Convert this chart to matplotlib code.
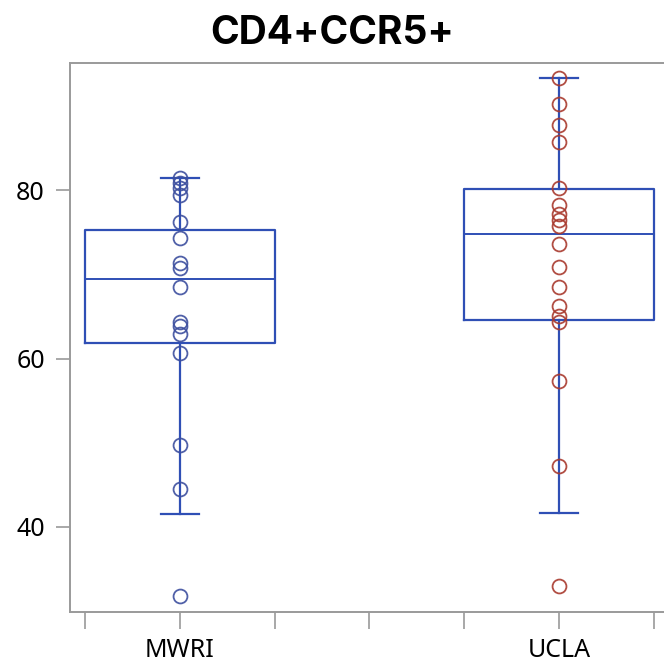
import matplotlib
matplotlib.use("Agg")
import matplotlib.pyplot as plt

# ---- data ----
groups = ["MWRI", "UCLA"]
positions = [1, 2]
mwri_vals = [81.5, 80.9, 80.2, 79.4, 76.2, 74.3, 71.3, 70.7, 68.5,
             64.4, 63.9, 62.9, 60.7, 49.7, 44.5, 31.8]
ucla_vals = [93.3, 90.2, 87.7, 85.7, 80.2, 78.2, 77.2, 76.5, 75.8, 73.6,
             70.9, 68.5, 66.2, 65.0, 64.4, 57.3, 47.2, 33.0]
# box stats (q1, median, q3, lower whisker, upper whisker)
q1 = [61.8, 64.6]
med = [69.5, 74.8]
q3 = [75.25, 80.1]
whislo = [41.5, 41.7]
whishi = [81.5, 93.3]
xtick_pos = [0.75, 1.0, 1.25, 1.5, 1.75, 2.0, 2.25]
xtick_labels = ["", "MWRI", "", "", "", "UCLA", ""]
yticks = [40, 60, 80]

box_color = "#2f4fb5"
point_colors = ["#3d4f9f", "#a93a2e"]
axis_grey = "#9a9a9a"

plt.rcParams["font.family"] = ["Noto Sans", "DejaVu Sans"]

fig = plt.figure(figsize=(6.64, 6.68), dpi=100)
ax = fig.add_axes([0.1054, 0.0838, 0.8946, 0.8219])

stats = []
for i, g in enumerate(groups):
    stats.append({"label": g, "q1": q1[i], "med": med[i], "q3": q3[i],
                  "whislo": whislo[i], "whishi": whishi[i], "fliers": []})

line_kw = dict(color=box_color, linewidth=1.6)
ax.bxp(stats, positions=positions, widths=0.5, capwidths=0.098,
       showfliers=False, boxprops=line_kw, whiskerprops=line_kw,
       capprops=line_kw, medianprops=dict(color=box_color, linewidth=1.4),
       manage_ticks=False, zorder=2)

for i, vals in enumerate([mwri_vals, ucla_vals]):
    ax.plot([positions[i]] * len(vals), vals, "o", markersize=10,
            markerfacecolor="none", markeredgecolor=point_colors[i],
            markeredgewidth=1.3, alpha=0.9, zorder=3)

ax.set_xlim(0.7098, 2.277)
ax.set_ylim(29.9, 95.1)
ax.set_xticks(xtick_pos)
ax.set_xticklabels(xtick_labels, fontsize=18)
ax.set_yticks(yticks)
ax.set_yticklabels([str(v) for v in yticks], fontsize=18)
ax.tick_params(axis="y", length=10, width=1.2, color=axis_grey, pad=8)
ax.tick_params(axis="x", length=12, width=1.2, color=axis_grey, pad=7)

for side in ["left", "bottom", "top"]:
    ax.spines[side].set_color(axis_grey)
    ax.spines[side].set_linewidth(1.4)
ax.spines["right"].set_visible(False)

fig.text(0.5, 0.934, "CD4+CCR5+", ha="center", va="baseline",
         fontsize=28, fontweight="bold", family=["Inter", "DejaVu Sans"])

plt.savefig("out.png", dpi=100)
